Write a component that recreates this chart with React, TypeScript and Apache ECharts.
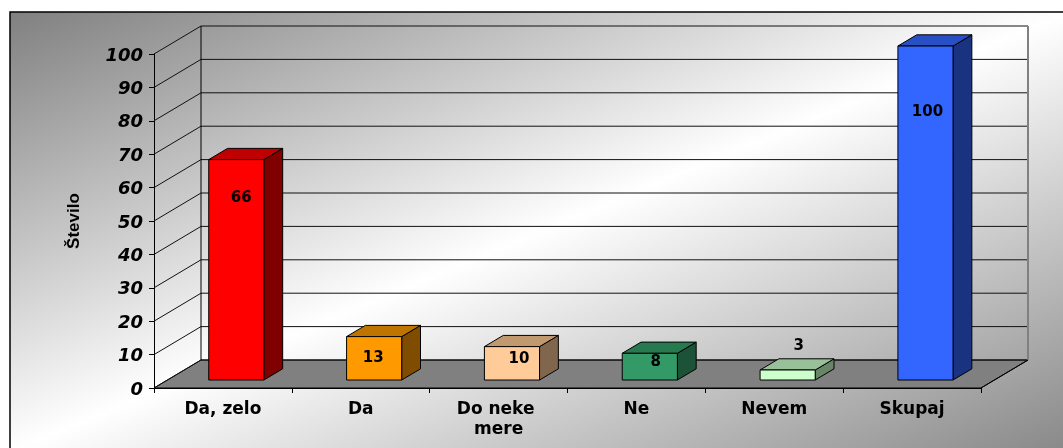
import React, { useEffect, useRef } from "react";
import * as echarts from "echarts";

// ---- data ----
const categories = ["Da, zelo", "Da", "Do neke mere", "Ne", "Nevem", "Skupaj"];
const counts = [66, 13, 10, 8, 3, 100];
const yTicks = [0, 10, 20, 30, 40, 50, 60, 70, 80, 90, 100];
const axisTitle = "Število";

// ---- styling ----
// bar face colours: front, top (lit), side (shaded)
const barFront = ["#ff0000", "#ff9900", "#ffcc99", "#339966", "#ccffcc", "#3366ff"];
const barTop = ["#c00000", "#c07400", "#c0996f", "#277a50", "#99c199", "#2850c4"];
const barSide = ["#800000", "#804d00", "#80664d", "#1c5237", "#688568", "#1a3380"];
// value label offset (px) from the top-front centre of each bar
const labelShift: [number, number][] = [
  [5, 37],
  [-1, 20],
  [7, 11],
  [6, 8],
  [11, -25],
  [2, 65],
];

const DEPTH: [number, number] = [47, -28]; // floor depth projection in px
const BAR_FRONT = 0.285; // share of depth in front of the bars
const BAR_DEPTH = 0.4; // share of depth taken by a bar
const BAR_WIDTH = 0.4; // share of a category band taken by a bar
const FONT = '"DejaVu Sans", Arial, sans-serif';
const TITLE_FONT = '"Liberation Sans", Arial, sans-serif';

function renderFrame(_params: any, api: any) {
  const band = api.size([1, 0])[0];
  const left = api.coord([0, 0])[0] - band / 2;
  const right = api.coord([categories.length - 1, 0])[0] + band / 2;
  const [dx, dy] = DEPTH;
  const y0 = api.coord([0, 0])[1];
  const yTop = api.coord([0, yTicks[yTicks.length - 1]])[1];
  const children: any[] = [];
  // floor
  children.push({
    type: "polygon",
    shape: {
      points: [
        [left, y0],
        [right, y0],
        [right + dx, y0 + dy],
        [left + dx, y0 + dy],
      ],
    },
    style: { fill: "#808080", stroke: "#000", lineWidth: 1 },
  });
  // grid lines running over the side wall and the back wall
  yTicks.forEach((v) => {
    const y = api.coord([0, v])[1];
    children.push({
      type: "polyline",
      shape: {
        points: [
          [left, y],
          [left + dx, y + dy],
          [right + dx, y + dy],
        ],
      },
      style: { fill: "none", stroke: "#111", lineWidth: 1 },
    });
  });
  // back wall edges
  children.push({
    type: "line",
    shape: { x1: left + dx, y1: y0 + dy, x2: left + dx, y2: yTop + dy },
    style: { stroke: "#000", lineWidth: 1 },
  });
  children.push({
    type: "line",
    shape: { x1: right + dx, y1: y0 + dy, x2: right + dx, y2: yTop + dy },
    style: { stroke: "#808080", lineWidth: 2 },
  });
  children.push({
    type: "line",
    shape: { x1: right, y1: y0, x2: right + dx, y2: y0 + dy },
    style: { stroke: "#000", lineWidth: 1 },
  });
  return { type: "group", children };
}

function renderBar(params: any, api: any) {
  const i = api.value(0);
  const v = api.value(1);
  const idx = params.dataIndex;
  const band = api.size([1, 0])[0];
  const w = band * BAR_WIDTH;
  const base = api.coord([i, 0]);
  const top = api.coord([i, v]);
  const fx = base[0] + DEPTH[0] * BAR_FRONT;
  const fy = DEPTH[1] * BAR_FRONT;
  const x1 = fx - w / 2;
  const x2 = fx + w / 2;
  const yb = base[1] + fy;
  const yt = top[1] + fy;
  const ddx = DEPTH[0] * BAR_DEPTH;
  const ddy = DEPTH[1] * BAR_DEPTH;
  const edge = { stroke: "#000", lineWidth: 1, lineJoin: "round" };
  return {
    type: "group",
    children: [
      {
        type: "polygon",
        shape: {
          points: [
            [x2, yt],
            [x2 + ddx, yt + ddy],
            [x2 + ddx, yb + ddy],
            [x2, yb],
          ],
        },
        style: { fill: barSide[idx], ...edge },
      },
      {
        type: "polygon",
        shape: {
          points: [
            [x1, yt],
            [x2, yt],
            [x2 + ddx, yt + ddy],
            [x1 + ddx, yt + ddy],
          ],
        },
        style: { fill: barTop[idx], ...edge },
      },
      {
        type: "rect",
        shape: { x: x1, y: yt, width: w, height: yb - yt },
        style: { fill: barFront[idx], ...edge },
      },
      {
        type: "text",
        x: fx + labelShift[idx][0],
        y: yt + labelShift[idx][1],
        style: {
          text: String(v),
          fill: "#000",
          font: `bold 15px ${FONT}`,
          align: "center",
          verticalAlign: "middle",
          textAlign: "center",
          textVerticalAlign: "middle",
        },
      },
    ],
  };
}

export default function App() {
  const ref = useRef<HTMLDivElement>(null);

  useEffect(() => {
    if (!ref.current) return;
    const chart = echarts.init(ref.current, undefined, { renderer: "svg" });
    chart.setOption({
      animation: false,
      graphic: [
        {
          type: "rect",
          z: -100,
          silent: true,
          shape: { x: 10, y: 12, width: 1060, height: 440 },
          style: {
            fill: new echarts.graphic.LinearGradient(0, 0, 1, 1, [
              { offset: 0, color: "#808080" },
              { offset: 0.5, color: "#ffffff" },
              { offset: 1, color: "#888888" },
            ]),
            stroke: "#000",
            lineWidth: 1.5,
          },
        },
      ],
      grid: { left: 154, right: 82, top: 54, bottom: 60, containLabel: false },
      xAxis: {
        type: "category",
        data: categories,
        boundaryGap: true,
        axisLine: { show: true, lineStyle: { color: "#000", width: 1 } },
        axisTick: { show: true, length: 5, lineStyle: { color: "#000" } },
        axisLabel: {
          interval: 0,
          margin: 10,
          color: "#000",
          fontFamily: FONT,
          fontWeight: "bold",
          fontSize: 17,
          lineHeight: 20,
          width: 125,
          overflow: "break",
        },
        splitLine: { show: false },
      },
      yAxis: {
        type: "value",
        min: 0,
        max: 100,
        interval: 10,
        name: axisTitle,
        nameLocation: "middle",
        nameRotate: 90,
        nameGap: 72,
        nameTextStyle: {
          color: "#000",
          fontFamily: TITLE_FONT,
          fontWeight: "bold",
          fontSize: 17,
        },
        axisLine: { show: true, lineStyle: { color: "#000", width: 1 } },
        axisTick: { show: true, length: 5, lineStyle: { color: "#000" } },
        axisLabel: {
          margin: 11,
          color: "#000",
          fontFamily: FONT,
          fontWeight: "bold",
          fontStyle: "italic",
          fontSize: 18,
        },
        splitLine: { show: false },
      },
      series: [
        {
          type: "custom",
          name: "frame",
          renderItem: renderFrame,
          data: [[0, 0]],
          encode: { x: 0, y: 1 },
          silent: true,
          z: 1,
        },
        {
          type: "custom",
          name: axisTitle,
          renderItem: renderBar,
          data: counts.map((v, i) => [i, v]),
          encode: { x: 0, y: 1 },
          z: 3,
        },
      ],
    });
    return () => chart.dispose();
  }, []);

  return (
    <div
      ref={ref}
      style={{ position: "fixed", left: 0, top: 0, width: 1063, height: 448 }}
    />
  );
}
